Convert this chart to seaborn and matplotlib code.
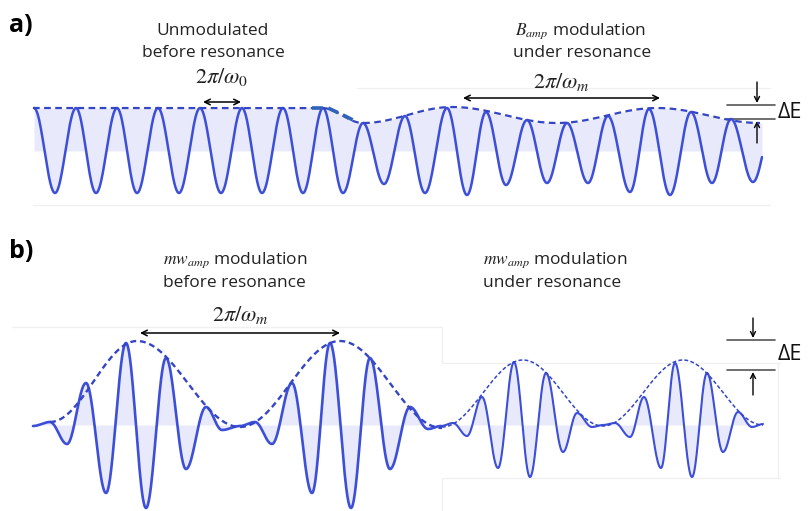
import numpy as np
import pandas as pd
import matplotlib.pyplot as plt
import seaborn as sns

# extrema of the waves in pixel units (y grows downward)
a_wave_x = [34, 55, 76, 96, 117, 137, 158, 179, 200, 221, 242, 262, 283, 303, 323, 343,
            363, 384, 405, 425, 447, 467, 486, 506, 527, 547, 567, 588, 608, 630, 649, 670,
            691, 712, 731, 753, 773]
a_wave_y = [108, 193, 108, 193, 108, 193, 108, 193, 108, 193, 108, 193, 108, 193, 108, 193,
            123, 184, 116, 193, 108, 195, 112, 185, 120, 183, 123, 183, 116, 192, 109, 195,
            112, 183, 119, 182, 123]
a_env_x = [33, 322, 363, 452, 557, 657, 760]
a_env_y = [108, 108, 123, 107, 123, 108, 123]
a_base = 151

b1_wave_x = [33, 50, 67, 86, 106, 126, 146, 166, 186, 206, 222, 240, 255, 272, 292, 312,
             330, 351, 370, 390, 410, 428, 441]
b1_wave_y = [426, 422, 444, 383, 493, 343, 508, 358, 469, 407, 430, 426, 422, 444, 383, 493,
             343, 508, 358, 469, 407, 429, 426]
b1_env_x = [50, 137, 240, 340, 442]
b1_env_y = [422, 341, 427, 341, 428]

b2_wave_x = [441, 453, 467, 482, 498, 514, 530, 546, 563, 577, 592, 603, 615, 630, 644, 661,
             675, 692, 707, 723, 738, 752, 763]
b2_wave_y = [426, 423, 436, 397, 468, 362, 477, 373, 452, 413, 427, 425, 423, 437, 397, 468,
             363, 477, 373, 452, 412, 427, 424]
b2_env_x = [442, 523, 603, 683, 763]
b2_env_y = [427, 360, 426, 360, 425]
b_base = 425


def smooth(xs, ys, n=40):
    # half-cosine joins between consecutive extrema
    px, py = [], []
    for i in range(len(xs) - 1):
        t = np.linspace(0, 1, n, endpoint=False)
        px.append(xs[i] + (xs[i + 1] - xs[i]) * t)
        py.append(ys[i] + (ys[i + 1] - ys[i]) * (1 - np.cos(np.pi * t)) / 2)
    px.append([xs[-1]])
    py.append([ys[-1]])
    return pd.DataFrame({"x": np.concatenate(px), "y": np.concatenate(py)})


sns.set_theme(style="white")
plt.rcParams["font.family"] = ["Open Sans", "DejaVu Sans"]
plt.rcParams["mathtext.fontset"] = "stix"

fig = plt.figure(figsize=(8.11, 5.11), dpi=100)
ax = fig.add_axes([0, 0, 1, 1])
ax.set_xlim(0, 811)
ax.set_ylim(511, 0)
ax.axis("off")

wave_c = "#3d4fd8"
env_c = "#3446c4"
fill_c = "#e8eafb"
txt_c = "#222222"

# faint frame edges of the pasted panels
frame_c = "#f0f0f0"
for (x0, y0, x1, y1) in [(357, 88, 770, 88), (33, 205, 770, 205), (12, 327, 442, 327),
                         (442, 327, 442, 363), (442, 363, 780, 363), (442, 478, 780, 478),
                         (442, 478, 442, 511), (778, 363, 778, 478)]:
    ax.plot([x0, x1], [y0, y1], color=frame_c, lw=1, zorder=0)

# panel a
wa = smooth(a_wave_x, a_wave_y)
wa = wa[wa["x"] <= 762]
ea = smooth(a_env_x, a_env_y)
top = np.interp(wa["x"], ea["x"], ea["y"])
ax.fill_between(wa["x"], np.maximum(wa["y"], a_base), top, color=fill_c, lw=0, zorder=1)
ax.fill_between(wa["x"], a_base, np.maximum(wa["y"], a_base), color=fill_c, lw=0, zorder=1)
sns.lineplot(data=wa, x="x", y="y", sort=False, estimator=None, ax=ax,
             color=wave_c, lw=1.8, zorder=3)
sns.lineplot(data=ea, x="x", y="y", sort=False, estimator=None, ax=ax,
             color=env_c, lw=1.6, dashes=(3, 2), zorder=4)
ax.plot([312, 328, 343, 357], [108, 108, 115, 122], color="#2f62b8", lw=2.6,
        dashes=(3, 1.5), zorder=5)

# panel b
for wx, wy, ex, ey, lw, elw, d in [(b1_wave_x, b1_wave_y, b1_env_x, b1_env_y, 1.9, 1.7, (2.5, 1.6)),
                                   (b2_wave_x, b2_wave_y, b2_env_x, b2_env_y, 1.5, 1.1, (2.5, 1.5))]:
    wb = smooth(wx, wy)
    eb = smooth(ex, ey)
    ax.fill_between(wb["x"], b_base, wb["y"], color=fill_c, lw=0, zorder=1)
    sns.lineplot(data=wb, x="x", y="y", sort=False, estimator=None, ax=ax,
                 color=wave_c, lw=lw, zorder=3)
    sns.lineplot(data=eb, x="x", y="y", sort=False, estimator=None, ax=ax,
                 color=env_c, lw=elw, dashes=d, zorder=4)

# labels
ax.text(9, 25, "a)", fontsize=18, fontweight="bold", color="black", va="center", ha="left")
ax.text(9, 252, "b)", fontsize=18, fontweight="bold", color="black", va="center", ha="left")

ax.text(213, 31, "Unmodulated", fontsize=12.5, color=txt_c, ha="center", va="center")
ax.text(213, 53, "before resonance", fontsize=12.5, color=txt_c, ha="center", va="center")
ax.text(222, 77, r"$2\pi/\omega_0$", fontsize=16, color=txt_c, ha="center", va="center")

ax.text(581, 31, r"$B_{amp}$ modulation", fontsize=12.5, color=txt_c, ha="center", va="center")
ax.text(582, 53, "under resonance", fontsize=12.5, color=txt_c, ha="center", va="center")
ax.text(561, 82, r"$2\pi/\omega_m$", fontsize=16, color=txt_c, ha="center", va="center")

ax.text(163, 260, r"$mw_{amp}$ modulation", fontsize=12.5, color=txt_c, ha="left", va="center")
ax.text(163, 283, "before resonance", fontsize=12.5, color=txt_c, ha="left", va="center")
ax.text(240, 315, r"$2\pi/\omega_m$", fontsize=16, color=txt_c, ha="center", va="center")

ax.text(483, 260, r"$mw_{amp}$ modulation", fontsize=12.5, color=txt_c, ha="left", va="center")
ax.text(483, 283, "under resonance", fontsize=12.5, color=txt_c, ha="left", va="center")

# period arrows
arr = dict(arrowstyle="<->", color="black", lw=1.1, shrinkA=0, shrinkB=0, mutation_scale=10)
ax.annotate("", xy=(203, 102), xytext=(241, 102), arrowprops=arr)
ax.annotate("", xy=(463, 98), xytext=(660, 98), arrowprops=arr)
ax.annotate("", xy=(140, 333), xytext=(340, 333), arrowprops=arr)

# delta E markers
one = dict(arrowstyle="->", color="black", lw=1.0, shrinkA=0, shrinkB=0, mutation_scale=9)
for y_hi, y_lo, xa, top_y, bot_y, ty in [(105, 119, 757, 82, 143, 112), (340, 370, 753, 318, 395, 355)]:
    ax.plot([727, 775], [y_hi, y_hi], color="#555555", lw=1.2)
    ax.plot([727, 775], [y_lo, y_lo], color="#555555", lw=1.2)
    ax.annotate("", xy=(xa, y_hi - 2), xytext=(xa, top_y), arrowprops=one)
    ax.annotate("", xy=(xa, y_lo + 2), xytext=(xa, bot_y), arrowprops=one)
    ax.text(778, ty, "ΔE", fontsize=15.5, color="#111111", ha="left", va="center")

fig.savefig("out.png", dpi=100)
